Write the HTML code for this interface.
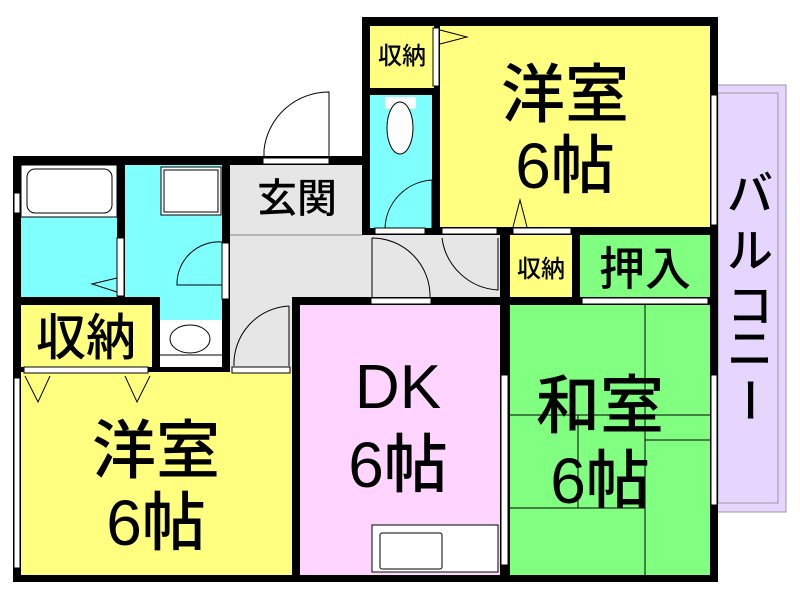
<!DOCTYPE html>
<html><head><meta charset="utf-8"><style>
html,body{margin:0;padding:0;background:#fff;width:800px;height:600px;overflow:hidden}
text{font-family:"Liberation Sans","Noto Sans CJK JP",sans-serif;fill:#000;font-weight:500}
</style></head><body>
<svg width="800" height="600" viewBox="0 0 800 600" xmlns="http://www.w3.org/2000/svg">
<rect x="716" y="85" width="70" height="427" fill="#e6d5ff" stroke="#999" stroke-width="1"/>
<rect x="718" y="93" width="60" height="410" fill="none" stroke="#999" stroke-width="1"/>
<polygon points="13,156 362,156 362,17 718,17 718,582 13,582" fill="#000"/>
<rect x="370" y="26" width="64" height="62" fill="#ffff80"/>
<rect x="370" y="95" width="62" height="133" fill="#80ffff"/>
<rect x="440" y="26" width="270" height="201" fill="#ffff80"/>
<rect x="21" y="165" width="96" height="132" fill="#80ffff"/>
<rect x="125" y="165" width="97" height="132" fill="#80ffff"/>
<rect x="160" y="297" width="62" height="23" fill="#80ffff"/>
<rect x="160" y="320" width="62" height="47" fill="#fff"/>
<rect x="230" y="165" width="132" height="70" fill="#e6e6e6"/>
<rect x="230" y="235" width="270" height="62" fill="#e6e6e6"/>
<rect x="230" y="235" width="62" height="137" fill="#e6e6e6"/>
<line x1="230" y1="235" x2="362" y2="235" stroke="#888" stroke-width="1"/>
<rect x="21" y="305" width="131" height="62" fill="#ffff80"/>
<rect x="21" y="372" width="271" height="203" fill="#ffff80"/>
<rect x="300" y="305" width="200" height="270" fill="#ffd5ff"/>
<rect x="510" y="235" width="62" height="62" fill="#ffff80"/>
<rect x="580" y="235" width="130" height="62" fill="#80ff80"/>
<rect x="510" y="305" width="200" height="270" fill="#80ff80"/>
<g stroke="#000" stroke-width="1" fill="none">
<line x1="645" y1="305" x2="645" y2="575"/>
<line x1="510" y1="415" x2="710" y2="415"/>
<line x1="578" y1="415" x2="578" y2="508"/>
<line x1="510" y1="508" x2="645" y2="508"/>
<line x1="645" y1="440" x2="710" y2="440"/>
</g>
<g stroke="#000" stroke-width="1" fill="#fff">
<rect x="21" y="165" width="96" height="52"/>
<rect x="27" y="169" width="85" height="44" rx="8"/>
<rect x="161" y="167" width="60" height="48"/>
<rect x="164" y="170" width="54" height="42"/>
<ellipse cx="190" cy="339" rx="20" ry="14"/>
<line x1="160" y1="355" x2="222" y2="355"/>
<rect x="385" y="97" width="31" height="12" stroke="none"/>
<ellipse cx="400" cy="128" rx="13" ry="26"/>
<rect x="372" y="525" width="126" height="47"/>
<rect x="380" y="533" width="62" height="36" rx="2"/>
</g>
<g fill="#fff" stroke="#000" stroke-width="1">
<rect x="263" y="158" width="66" height="6"/>
<rect x="117" y="238" width="7" height="58"/>
<rect x="222" y="243" width="7" height="56"/>
<rect x="375" y="228" width="50" height="6"/>
<rect x="442" y="228" width="55" height="6"/>
<rect x="513" y="228" width="58" height="6"/>
<rect x="371" y="298" width="60" height="6"/>
<rect x="232" y="367" width="58" height="6"/>
<rect x="24" y="367" width="124" height="6"/>
<rect x="433" y="28" width="6" height="58"/>
<rect x="582" y="298" width="126" height="6"/>
<rect x="14" y="193" width="6" height="20"/>
<rect x="14" y="378" width="6" height="190"/>
<rect x="711" y="95" width="6" height="130"/>
<rect x="501" y="375" width="7" height="190"/>
<rect x="711" y="375" width="6" height="130"/>
</g>
<g stroke="#000" stroke-width="1" fill="none">
<path d="M264,156 L264,150 A65,65 0 0 1 329,92 L329,156"/>
<path d="M222,242 A42,42 0 0 0 177,285 L222,285"/>
<path d="M289,306 A58,58 0 0 0 234,366"/><line x1="289" y1="306" x2="289" y2="366"/>
<path d="M372,238 L372,297 M372,238 A58,58 0 0 1 430,297"/>
<path d="M442,238 A60,60 0 0 0 498,290 L498,238"/>
<path d="M432,180 A50,50 0 0 0 385,228 M432,180 L432,228"/>
<path d="M117,278 L92,284 L117,292"/>
<path d="M440,30 L467,37 L440,44"/>
<path d="M513,227 L520,200 L527,227"/>
<path d="M25,376 L38,402 L50,376 M125,376 L137,402 L150,376"/>
</g>
<text x="565" y="117" font-size="64" text-anchor="middle">洋室</text>
<text x="565" y="188" font-size="64" text-anchor="middle">6帖</text>
<text x="402" y="64" font-size="24" text-anchor="middle">収納</text>
<text x="297" y="212" font-size="40" text-anchor="middle">玄関</text>
<text x="86" y="355" font-size="50" text-anchor="middle">収納</text>
<text x="156" y="473" font-size="64" text-anchor="middle">洋室</text>
<text x="156" y="545" font-size="64" text-anchor="middle">6帖</text>
<text x="398" y="408" font-size="62" text-anchor="middle">DK</text>
<text x="398" y="487" font-size="64" text-anchor="middle">6帖</text>
<text x="600" y="428" font-size="64" text-anchor="middle">和室</text>
<text x="600" y="503" font-size="64" text-anchor="middle">6帖</text>
<text x="541" y="277" font-size="24" text-anchor="middle">収納</text>
<text x="645" y="285" font-size="46" text-anchor="middle">押入</text>
<text x="750" y="210" font-size="46" text-anchor="middle">バ</text>
<text x="750" y="267" font-size="46" text-anchor="middle">ル</text>
<text x="750" y="322" font-size="46" text-anchor="middle">コ</text>
<text x="750" y="365" font-size="46" text-anchor="middle">ニ</text>
<text x="750" y="417" font-size="46" text-anchor="middle" transform="rotate(90 750 400)">ー</text>
</svg>
</body></html>
